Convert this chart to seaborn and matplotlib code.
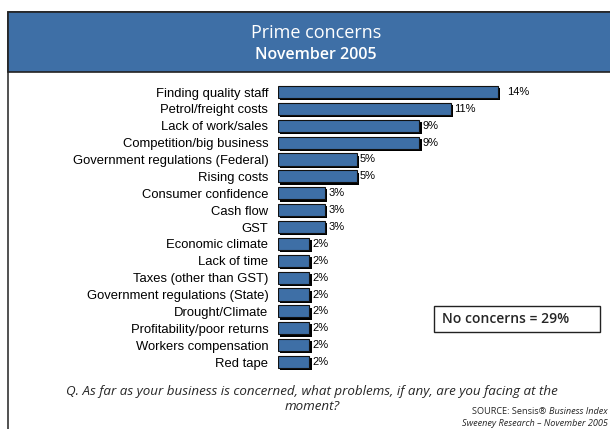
import matplotlib
matplotlib.use("Agg")
import matplotlib.pyplot as plt
import matplotlib.patheffects as pe
from matplotlib.patches import Rectangle
import seaborn as sns
import pandas as pd

categories = [
    "Finding quality staff",
    "Petrol/freight costs",
    "Lack of work/sales",
    "Competition/big business",
    "Government regulations (Federal)",
    "Rising costs",
    "Consumer confidence",
    "Cash flow",
    "GST",
    "Economic climate",
    "Lack of time",
    "Taxes (other than GST)",
    "Government regulations (State)",
    "Drought/Climate",
    "Profitability/poor returns",
    "Workers compensation",
    "Red tape",
]
values = [14, 11, 9, 9, 5, 5, 3, 3, 3, 2, 2, 2, 2, 2, 2, 2, 2]
no_concerns = 29

title_line1 = "Prime concerns"
title_line2 = "November 2005"
question_lines = [
    "Q. As far as your business is concerned, what problems, if any, are you facing at the",
    "moment?",
]

df = pd.DataFrame({"concern": categories, "pct": values})

W, H = 610, 429
BLUE = "#3E6FA6"
HUMANIST = ["Open Sans", "DejaVu Sans"]

sns.set_theme(style="white")
plt.rcParams["font.family"] = ["Liberation Sans", "DejaVu Sans"]

fig = plt.figure(figsize=(W / 100, H / 100), dpi=100)

def fx(px):
    return px / W

def fy(py):
    return 1 - py / H

# outer frame and title band
fig.patches.append(Rectangle((fx(8), fy(440)), fx(620) - fx(8), fy(12) - fy(440),
                             transform=fig.transFigure, facecolor="none",
                             edgecolor="#333333", linewidth=1.2, zorder=0))
fig.patches.append(Rectangle((fx(8), fy(72)), fx(620) - fx(8), fy(12) - fy(72),
                             transform=fig.transFigure, facecolor=BLUE,
                             edgecolor="#222222", linewidth=1.2, zorder=1))
fig.text(fx(316), fy(33), title_line1, color="white", fontsize=13,
         ha="center", va="center", family=HUMANIST)
fig.text(fx(316), fy(55), title_line2, color="white", fontsize=11.5,
         ha="center", va="center", family=HUMANIST, fontweight="semibold")

# bar chart area
px_per_pct = 15.7
row = 16.875
left_px, top_px = 278, 92 - row / 2
n = len(categories)
ax = fig.add_axes([fx(left_px), fy(top_px + n * row), fx(20 * px_per_pct), n * row / H])

sns.barplot(data=df, x="pct", y="concern", orient="h", color=BLUE, saturation=1,
            width=0.72, edgecolor="#111111", linewidth=0.8, ax=ax)
for bar in ax.patches:
    bar.set_path_effects([pe.SimplePatchShadow(offset=(1.6, -1.6), shadow_rgbFace="black", alpha=1.0),
                          pe.Normal()])

for i, (bar, v) in enumerate(zip(ax.patches, values)):
    pad = 7 if i == 0 else 2.5
    ax.annotate(f"{v}%", (bar.get_width(), bar.get_y() + bar.get_height() / 2),
                xytext=(pad, 0), textcoords="offset points", ha="left", va="center",
                fontsize=8, color="black")

ax.set_xlim(0, 20)
ax.set_ylim(n - 0.5, -0.5)
ax.set_xlabel("")
ax.set_ylabel("")
ax.set_xticks([])
ax.tick_params(axis="y", length=0, pad=7, labelsize=9.4, labelcolor="black")
sns.despine(ax=ax, left=True, bottom=True)

# summary box
fig.patches.append(Rectangle((fx(434), fy(332)), fx(600) - fx(434), fy(306) - fy(332),
                             transform=fig.transFigure, facecolor="white",
                             edgecolor="#222222", linewidth=1.0, zorder=2))
fig.text(fx(442), fy(319), f"No concerns = {no_concerns}%", fontsize=10,
         fontweight="semibold", ha="left", va="center", family=HUMANIST, zorder=3)

# footer
fig.text(fx(312), fy(391), question_lines[0], fontsize=9.6, style="italic", ha="center",
         va="center", family=HUMANIST)
fig.text(fx(312), fy(407), question_lines[1], fontsize=9.6, style="italic", ha="center",
         va="center", family=HUMANIST)

fig.canvas.draw()
renderer = fig.canvas.get_renderer()
t_it = fig.text(fx(608), fy(411), "Business Index", fontsize=6.6, style="italic",
                ha="right", va="center", family=HUMANIST)
bb = t_it.get_window_extent(renderer)
fig.text((bb.x0 - 3) / W, fy(411), "SOURCE: Sensis\u00ae", fontsize=6.6, ha="right",
         va="center", family=HUMANIST)
fig.text(fx(608), fy(424), "Sweeney Research \u2013 November 2005", fontsize=6.6,
         style="italic", ha="right", va="center", family=HUMANIST)

fig.savefig("out.png", dpi=100)
